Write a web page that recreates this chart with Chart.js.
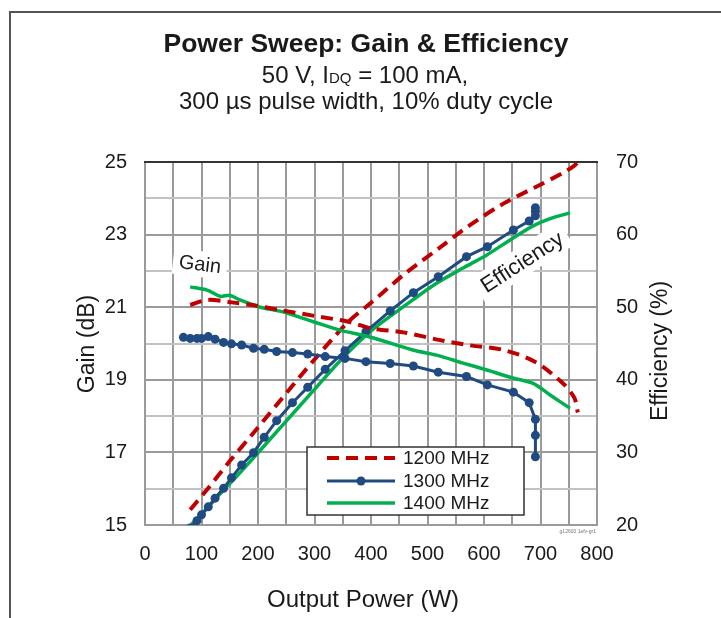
<!DOCTYPE html>
<html>
<head>
<meta charset="utf-8">
<script src="https://cdn.jsdelivr.net/npm/chart.js@4.4.0/dist/chart.umd.min.js"></script>
<style>
  html, body { margin: 0; padding: 0; background: #fff; }
  #wrap { width: 721px; height: 618px; position: relative; }
</style>
</head>
<body>
<div id="wrap"><canvas id="chart" width="721" height="618"></canvas></div>
<script>
// Output power (W) for each frequency
const power1200 = [80, 110, 150, 190, 240, 300, 360, 400, 460, 520, 575, 635, 690, 740, 760, 766];
const gain1200  = [21.06, 21.2, 21.14, 21.06, 20.92, 20.76, 20.6, 20.42, 20.3, 20.1, 19.95, 19.82, 19.5, 18.9, 18.5, 18.1];
const eff1200   = [22.1, 24.9, 28.8, 32.5, 37.2, 42.8, 48.0, 50.6, 54.6, 58.1, 61.3, 64.3, 66.5, 68.5, 69.5, 70.0];

const power1300 = [68, 80, 92, 100, 112, 124, 139, 153, 171, 192, 211, 233, 261, 288, 319, 354, 391, 434, 475, 519, 569, 606, 652, 680, 691, 691, 691];
const gain1300  = [20.17, 20.14, 20.14, 20.14, 20.19, 20.12, 20.03, 19.99, 19.96, 19.87, 19.84, 19.78, 19.75, 19.71, 19.64, 19.59, 19.5, 19.45, 19.38, 19.21, 19.09, 18.86, 18.66, 18.37, 17.91, 17.47, 16.88];
const eff1300   = [18.3, 19.6, 20.6, 21.4, 22.5, 23.7, 25.05, 26.5, 28.26, 29.96, 32.08, 34.37, 36.85, 38.97, 41.44, 44.0, 46.63, 49.48, 52.0, 54.2, 56.96, 58.33, 60.63, 61.87, 62.6, 63.2, 63.7];

const power1400 = [80, 110, 133, 150, 168, 204, 244, 298, 345, 398, 474, 516, 563, 605, 651, 687, 717, 752];
const gain1400  = [21.56, 21.47, 21.3, 21.33, 21.2, 21.0, 20.87, 20.6, 20.37, 20.18, 19.82, 19.68, 19.46, 19.27, 19.05, 18.9, 18.58, 18.22];
const eff1400   = [19.9, 22.3, 24.3, 25.7, 27.2, 30.3, 33.8, 38.5, 42.6, 46.6, 51.0, 53.3, 55.4, 57.2, 59.5, 61.2, 62.2, 63.0];

const seriesNames = ['1200 MHz', '1300 MHz', '1400 MHz'];
const xTicks = [0, 100, 200, 300, 400, 500, 600, 700, 800];
const gainTicks = [15, 17, 19, 21, 23, 25];
const effTicks = [20, 30, 40, 50, 60, 70];

const RED = '#c00000';
const BLUE = '#1f4a82';
const GREEN = '#00b04f';
const FONT = '"Liberation Sans", Arial, Helvetica, sans-serif';

function pts(xs, ys) {
    return xs.map((x, i) => ({ x: x, y: ys[i] }));
}

const styles = [
    { borderColor: RED, borderWidth: 4, borderDash: [12, 7], pointRadius: 0, tension: 0.3 },
    { borderColor: BLUE, backgroundColor: BLUE, borderWidth: 3, pointRadius: 4.5, pointBackgroundColor: BLUE, pointBorderWidth: 0, tension: 0 },
    { borderColor: GREEN, borderWidth: 3.5, pointRadius: 0, tension: 0.3 }
];

const datasets = [
    Object.assign({ label: seriesNames[0], data: pts(power1200, gain1200), yAxisID: 'yG' }, styles[0]),
    Object.assign({ label: seriesNames[1], data: pts(power1300, gain1300), yAxisID: 'yG' }, styles[1]),
    Object.assign({ label: seriesNames[2], data: pts(power1400, gain1400), yAxisID: 'yG' }, styles[2]),
    Object.assign({ label: seriesNames[0], data: pts(power1200, eff1200), yAxisID: 'yE' }, styles[0]),
    Object.assign({ label: seriesNames[1], data: pts(power1300, eff1300), yAxisID: 'yE' }, styles[1]),
    Object.assign({ label: seriesNames[2], data: pts(power1400, eff1400), yAxisID: 'yE' }, styles[2])
];

// titles, axis titles, labels, legend, frame
const decor = {
    id: 'decor',
    afterDraw(chart) {
        const ctx = chart.ctx;
        const a = chart.chartArea;
        ctx.save();

        // outer frame
        ctx.strokeStyle = '#555';
        ctx.lineWidth = 2;
        ctx.beginPath();
        ctx.moveTo(10, 618);
        ctx.lineTo(10, 12);
        ctx.lineTo(721, 12);
        ctx.stroke();

        // dark top edge of the plot
        ctx.strokeStyle = '#333';
        ctx.lineWidth = 2;
        ctx.beginPath();
        ctx.moveTo(a.left - 1, a.top);
        ctx.lineTo(a.right + 1, a.top);
        ctx.stroke();

        ctx.fillStyle = '#1a1a1a';
        ctx.textAlign = 'center';
        ctx.textBaseline = 'middle';
        ctx.font = 'bold 26.5px ' + FONT;
        ctx.fillText('Power Sweep: Gain & Efficiency', 366, 45);

        // subtitle line 1 with small DQ
        const p1 = '50 V, I', p3 = ' = 100 mA,';
        ctx.font = '24px ' + FONT;
        const w1 = ctx.measureText(p1).width, w3 = ctx.measureText(p3).width;
        ctx.font = '15px ' + FONT;
        const w2 = ctx.measureText('DQ').width;
        let x0 = 365 - (w1 + w2 + w3) / 2;
        ctx.textAlign = 'left';
        ctx.textBaseline = 'alphabetic';
        ctx.font = '24px ' + FONT;
        ctx.fillText(p1, x0, 83);
        ctx.font = '15px ' + FONT;
        ctx.fillText('DQ', x0 + w1, 83);
        ctx.font = '24px ' + FONT;
        ctx.fillText(p3, x0 + w1 + w2, 83);

        ctx.textAlign = 'center';
        ctx.textBaseline = 'middle';
        ctx.fillText('300 \u00b5s pulse width, 10% duty cycle', 366, 102);

        // axis titles
        ctx.fillText('Output Power (W)', 363, 600);
        ctx.font = '23px ' + FONT;
        ctx.save();
        ctx.translate(88, 344);
        ctx.rotate(-Math.PI / 2);
        ctx.fillText('Gain (dB)', 0, 0);
        ctx.restore();
        ctx.save();
        ctx.translate(661, 351);
        ctx.rotate(-Math.PI / 2);
        ctx.fillText('Efficiency (%)', 0, 0);
        ctx.restore();

        // curve labels
        ctx.save();
        ctx.translate(200, 264);
        ctx.rotate(7 * Math.PI / 180);
        ctx.font = '20px ' + FONT;
        let w = ctx.measureText('Gain').width;
        ctx.fillStyle = '#fff';
        ctx.fillRect(-w / 2 - 6, -13, w + 12, 26);
        ctx.fillStyle = '#1a1a1a';
        ctx.fillText('Gain', 0, 1);
        ctx.restore();

        ctx.save();
        ctx.translate(522, 262);
        ctx.rotate(-33 * Math.PI / 180);
        ctx.font = '22px ' + FONT;
        w = ctx.measureText('Efficiency').width;
        ctx.fillStyle = '#fff';
        ctx.fillRect(-w / 2 - 6, -14, w + 12, 28);
        ctx.fillStyle = '#1a1a1a';
        ctx.fillText('Efficiency', 0, 1);
        ctx.restore();

        // legend
        const lx = 307, ly = 447, lw = 217, lh = 68;
        ctx.fillStyle = '#fff';
        ctx.fillRect(lx, ly, lw, lh);
        ctx.strokeStyle = '#333';
        ctx.lineWidth = 1.5;
        ctx.strokeRect(lx, ly, lw, lh);
        const rows = [458, 481, 503];
        ctx.font = '19px ' + FONT;
        ctx.textAlign = 'left';
        for (let i = 0; i < 3; i++) {
            const s = styles[i];
            ctx.strokeStyle = s.borderColor;
            ctx.lineWidth = s.borderWidth;
            ctx.setLineDash(s.borderDash || []);
            ctx.beginPath();
            ctx.moveTo(327, rows[i]);
            ctx.lineTo(395, rows[i]);
            ctx.stroke();
            ctx.setLineDash([]);
            if (s.pointRadius) {
                ctx.fillStyle = s.borderColor;
                ctx.beginPath();
                ctx.arc(361, rows[i], s.pointRadius, 0, Math.PI * 2);
                ctx.fill();
            }
            ctx.fillStyle = '#1a1a1a';
            ctx.fillText(seriesNames[i], 403, rows[i] + 1);
        }

        // tiny figure id
        ctx.font = '5px ' + FONT;
        ctx.fillStyle = '#777';
        ctx.textAlign = 'right';
        ctx.fillText('g12600 1efv-gr1', 596, 532);
        ctx.restore();
    }
};

new Chart(document.getElementById('chart'), {
    type: 'line',
    data: { datasets: datasets },
    options: {
        responsive: false,
        animation: false,
        layout: { padding: { top: 162, left: 0, right: 0, bottom: 0 } },
        plugins: { legend: { display: false }, tooltip: { enabled: false }, title: { display: false } },
        elements: { line: { fill: false } },
        scales: {
            x: {
                type: 'linear',
                min: 0, max: 800,
                ticks: {
                    stepSize: 50, autoSkip: false, maxRotation: 0, padding: 17,
                    color: '#1a1a1a', font: { family: FONT, size: 20 },
                    callback: v => xTicks.includes(v) ? String(v) : ''
                },
                grid: { color: '#9a9a9a', lineWidth: 2, drawTicks: false },
                border: { color: '#9a9a9a', width: 2 },
                afterFit: s => { s.height = 93; }
            },
            yG: {
                type: 'linear', position: 'left',
                min: 15, max: 25,
                ticks: {
                    stepSize: 1, autoSkip: false, padding: 18,
                    color: '#1a1a1a', font: { family: FONT, size: 20 },
                    callback: v => gainTicks.includes(v) ? String(v) : ''
                },
                grid: {
                    color: c => gainTicks.includes(c.tick.value) ? '#9a9a9a' : '#c2c2c2',
                    lineWidth: 2, drawTicks: false
                },
                border: { color: '#9a9a9a', width: 2 },
                afterFit: s => { s.width = 145; }
            },
            yE: {
                type: 'linear', position: 'right',
                min: 20, max: 70,
                ticks: {
                    stepSize: 5, autoSkip: false, padding: 19,
                    color: '#1a1a1a', font: { family: FONT, size: 20 },
                    callback: v => effTicks.includes(v) ? String(v) : ''
                },
                grid: { display: false, drawTicks: false },
                border: { color: '#9a9a9a', width: 2 },
                afterFit: s => { s.width = 124; }
            }
        }
    },
    plugins: [decor]
});
</script>
</body>
</html>
